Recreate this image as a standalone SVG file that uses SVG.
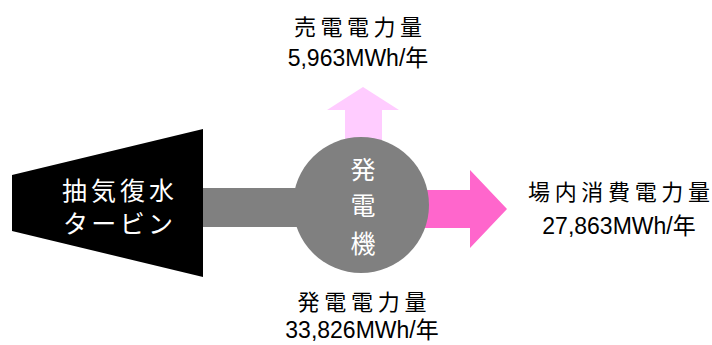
<svg xmlns="http://www.w3.org/2000/svg" width="712" height="345" viewBox="0 0 712 345">
<style>
.lbl{font-family:"Noto Sans CJK JP",sans-serif;font-size:22px;fill:#000;text-anchor:middle}
.num{font-family:"Liberation Sans","Noto Sans CJK JP",sans-serif;font-size:23px;fill:#000;text-anchor:middle}
.wt{font-family:"Noto Sans CJK JP",sans-serif;font-size:25px;fill:#fff;text-anchor:middle}
</style>
<rect width="712" height="345" fill="#fff"/>
<g id="connectors">
<rect x="200" y="188" width="110" height="39" fill="#808080"/>
<polygon points="345,200 345,110 327,110 363,87 399,110 382,110 382,200" fill="#FFCCFF"/>
<polygon points="400,190 470,190 470,170 507,209 470,248 470,228 400,228" fill="#FF66CC"/>
</g>
<g id="turbine">
<polygon points="12,175 203,129 203,277 12,231" fill="#000"/>
<text class="wt" x="118" y="200" textLength="112">抽気復水</text>
<text class="wt" x="118" y="233" textLength="110">タービン</text>
</g>
<g id="generator">
<circle cx="361" cy="205" r="68" fill="#808080"/>
<text class="wt" x="363" y="179">発</text>
<text class="wt" x="363" y="215">電</text>
<text class="wt" x="363" y="253">機</text>
</g>
<g id="sell">
<text class="lbl" x="358" y="35" textLength="128">売電電力量</text>
<text class="num" x="358" y="66">5,963MWh/年</text>
</g>
<g id="internal">
<text class="lbl" x="619" y="200" textLength="182">場内消費電力量</text>
<text class="num" x="619" y="234">27,863MWh/年</text>
</g>
<g id="total">
<text class="lbl" x="362" y="310" textLength="129">発電電力量</text>
<text class="num" x="362" y="338">33,826MWh/年</text>
</g>
</svg>
